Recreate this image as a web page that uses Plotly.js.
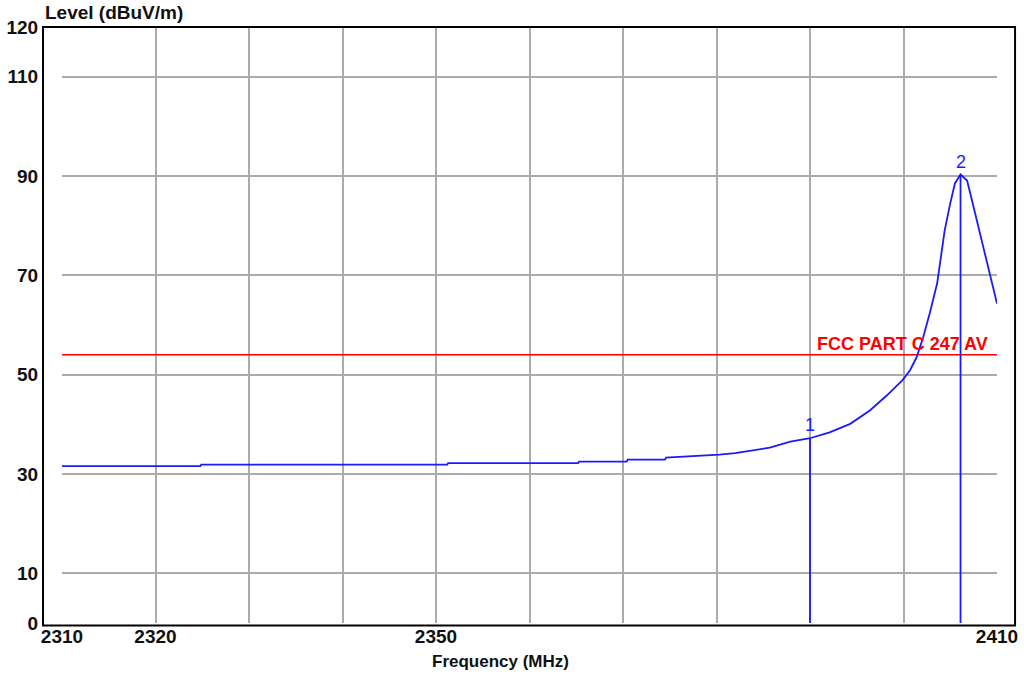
<!DOCTYPE html>
<html>
<head>
<meta charset="utf-8">
<script src="https://cdn.plot.ly/plotly-3.0.1.min.js"></script>
<style>
html,body{margin:0;padding:0;background:#fff;}
#chart{width:1024px;height:676px;}
</style>
</head>
<body>
<div id="chart"></div>
<script>
// Measured trace (frequency in MHz, level in dBuV/m)
const freq = [2310, 2324.8, 2324.9, 2351.2, 2351.3, 2365.2, 2365.3, 2370.4, 2370.5, 2374.5,
              2374.6, 2378, 2380.3, 2382, 2383.4, 2384.4, 2385.7, 2387.9, 2390.0, 2392.1,
              2394.3, 2396.4, 2398.2, 2399.9, 2400.7, 2401.4, 2402.1, 2402.8, 2403.6, 2404.1,
              2404.4, 2405.0, 2405.5, 2406.1, 2406.8, 2407.4, 2408.2, 2408.9, 2409.5, 2410];
const level = [31.6, 31.6, 31.9, 31.9, 32.2, 32.2, 32.5, 32.5, 32.9, 32.9,
               33.3, 33.6, 33.9, 34.2, 34.6, 34.8, 35.3, 36.5, 37.2, 38.4,
               40.1, 42.8, 45.8, 48.9, 50.9, 53.5, 57.5, 62.3, 68.4, 75.0,
               79.0, 84.5, 88.5, 90.3, 89.1, 84.5, 78.4, 73.0, 68.4, 64.3];

// Limit line
const limitName = "FCC PART C 247 AV";
const limitFreq = [2310, 2410];
const limitLevel = [54, 54];

// Markers
const markerLabels = ["1", "2"];
const markerFreq = [2390.0, 2406.1];
const markerLevel = [37.2, 90.3];

// Axes
const xTickVals = [2310, 2320, 2330, 2340, 2350, 2360, 2370, 2380, 2390, 2400, 2410];
const xTickText = ["2310", "2320", "", "", "2350", "", "", "", "", "", "2410"];
const yTickVals = [0, 10, 30, 50, 70, 90, 110, 120];
const yTickText = ["0", "10", "30", "50", "70", "90", "110", "120"];
const xTitle = "Frequency (MHz)";
const yTitle = "Level (dBuV/m)";

const BLUE = "#1a1aff";
const traces = [];
traces.push({
  x: limitFreq, y: limitLevel, mode: "lines", type: "scatter",
  line: {color: "#ff0000", width: 1.6}, hoverinfo: "skip"
});
traces.push({
  x: freq, y: level, mode: "lines", type: "scatter",
  line: {color: BLUE, width: 1.8}, hoverinfo: "skip"
});
markerFreq.forEach((f, i) => {
  traces.push({
    x: [f, f], y: [0, markerLevel[i]], mode: "lines", type: "scatter",
    line: {color: BLUE, width: 1.8}, hoverinfo: "skip"
  });
});

const annotations = [];
markerFreq.forEach((f, i) => {
  annotations.push({
    x: f, y: markerLevel[i], xref: "x", yref: "y", text: markerLabels[i],
    showarrow: false, yanchor: "bottom", xanchor: "center", yshift: 1,
    font: {family: "Liberation Sans, Arial, sans-serif", size: 18, color: BLUE}
  });
});
annotations.push({
  x: 2409.3, y: limitLevel[1], xref: "x", yref: "y", text: limitName,
  showarrow: false, xanchor: "right", yanchor: "bottom", yshift: -1,
  font: {family: "Liberation Sans, Arial, sans-serif", size: 18, color: "#ff0000", weight: "bold"}
});
annotations.push({
  x: -0.0203, y: 1.025, xref: "paper", yref: "paper", text: yTitle,
  showarrow: false, xanchor: "left", yanchor: "middle",
  font: {family: "Liberation Sans, Arial, sans-serif", size: 19, color: "#111", weight: "bold"}
});
annotations.push({
  x: 0.4695, y: -0.0654, xref: "paper", yref: "paper", text: xTitle,
  showarrow: false, xanchor: "center", yanchor: "middle",
  font: {family: "Liberation Sans, Arial, sans-serif", size: 17, color: "#111", weight: "bold"}
});

const layout = {
  width: 1024, height: 676,
  margin: {l: 62, r: 27, t: 27, b: 53, pad: 0},
  paper_bgcolor: "#ffffff", plot_bgcolor: "#ffffff",
  showlegend: false,
  xaxis: {
    range: [2310, 2410], tickmode: "array", tickvals: xTickVals, ticktext: xTickText,
    showgrid: true, gridcolor: "#ababab", gridwidth: 2,
    zeroline: false, showline: false,
    ticks: "", ticklen: 0,
    tickfont: {family: "Liberation Sans, Arial, sans-serif", size: 19, color: "#111", weight: "bold"},
    fixedrange: true
  },
  yaxis: {
    range: [0, 120], tickmode: "array", tickvals: yTickVals, ticktext: yTickText,
    showgrid: true, gridcolor: "#ababab", gridwidth: 2,
    zeroline: false, showline: false,
    ticks: "outside", ticklen: 19, tickcolor: "rgba(0,0,0,0)",
    tickfont: {family: "Liberation Sans, Arial, sans-serif", size: 19, color: "#111", weight: "bold"},
    fixedrange: true
  },
  shapes: [{
    type: "rect", xref: "paper", yref: "paper",
    x0: -0.0203, x1: 1.0193, y0: -0.004, y1: 1.0,
    line: {color: "#000000", width: 2}, fillcolor: "rgba(0,0,0,0)", layer: "above"
  }],
  annotations: annotations
};

Plotly.newPlot("chart", traces, layout, {staticPlot: true, displayModeBar: false});
</script>
</body>
</html>
